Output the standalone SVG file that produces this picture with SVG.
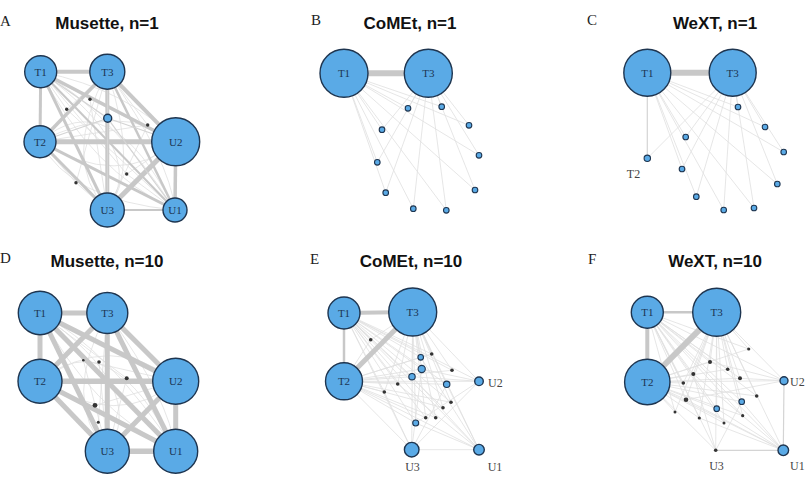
<svg xmlns="http://www.w3.org/2000/svg" width="805" height="486" viewBox="0 0 805 486">
<style>
.bg{fill:#fff}
.lt{font-family:"Liberation Serif",serif;font-size:15px;fill:#222}
.ti{font-family:"Liberation Sans",Arial,sans-serif;font-weight:bold;font-size:17px;fill:#111;text-anchor:middle}
.node circle{fill:#5aaae6;stroke:#1e3550;stroke-width:1.4}
.nl{font-family:"Liberation Serif",serif;font-size:11px;fill:#1c3552;text-anchor:middle}
.xl{font-family:"Liberation Serif",serif;font-size:12px;fill:#444}
.dot circle{fill:#333;stroke:none}
.sm circle{stroke-width:1.1}
.k{stroke:#c8c8c8;fill:none;stroke-linecap:butt}
.t{stroke:#e0e0e0;stroke-width:0.8;fill:none}
.tm{stroke:#d4d4d4;stroke-width:1.2;fill:none}
</style>
<rect class="bg" width="805" height="486"/>
<text class="lt" x="0" y="26">A</text>
<text class="lt" x="311" y="25">B</text>
<text class="lt" x="587" y="25">C</text>
<text class="lt" x="0" y="263">D</text>
<text class="lt" x="310" y="264">E</text>
<text class="lt" x="588" y="264">F</text>
<text class="ti" x="107" y="29">Musette, n=1</text>
<text class="ti" x="410" y="29">CoMEt, n=1</text>
<text class="ti" x="715" y="29">WeXT, n=1</text>
<text class="ti" x="107" y="267">Musette, n=10</text>
<text class="ti" x="411" y="267">CoMEt, n=10</text>
<text class="ti" x="715" y="267">WeXT, n=10</text>

<g id="connectors">
<g id="A-edges">
<path class="t" d="M40.7 71.7Q110 110 175 210M40 141.7Q120 100 175.7 141.7M107.3 71.7Q60 160 107.3 210M40.7 71.7Q150 150 107.3 210M40 141.7Q120 190 175.7 141.7M107.3 71.7Q170 160 175 210M40.7 71.7Q90 170 175 210M40 141.7Q110 80 175 210M40.7 71.7Q130 90 175.7 141.7M40 141.7Q70 200 175 210M107.3 71.7Q140 170 107.3 210M90 99.3L40.7 71.7M90 99.3L175.7 141.7M90 99.3L107.3 210M66.7 109.3L40.7 71.7M66.7 109.3L175 210M66.7 109.3L107.3 71.7M147.7 125L107.3 71.7M147.7 125L40 141.7M147.7 125L107.3 210M126.7 174L40.7 71.7M126.7 174L175.7 141.7M126.7 174L175 210M76 182.7L40 141.7M76 182.7L107.3 71.7M76 182.7L107.3 210"/>
<line class="k" x1="40.7" y1="71.7" x2="107.3" y2="71.7" stroke-width="4"/>
<line class="k" x1="40.7" y1="71.7" x2="40" y2="141.7" stroke-width="3"/>
<line class="k" x1="40" y1="141.7" x2="175.7" y2="141.7" stroke-width="5"/>
<line class="k" x1="107.3" y1="71.7" x2="107.3" y2="210" stroke-width="4"/>
<line class="k" x1="175.7" y1="141.7" x2="175" y2="210" stroke-width="3.5"/>
<line class="k" x1="107.3" y1="210" x2="175" y2="210" stroke-width="2"/>
<line class="k" x1="107.3" y1="71.7" x2="175.7" y2="141.7" stroke-width="4"/>
<line class="k" x1="40.7" y1="71.7" x2="175.7" y2="141.7" stroke-width="3.5"/>
<line class="k" x1="40" y1="141.7" x2="107.3" y2="210" stroke-width="3"/>
<line class="k" x1="40.7" y1="71.7" x2="107.3" y2="210" stroke-width="3"/>
<line class="k" x1="40" y1="141.7" x2="175" y2="210" stroke-width="3"/>
<line class="k" x1="107.3" y1="210" x2="175.7" y2="141.7" stroke-width="5"/>
<line class="k" x1="107.3" y1="71.7" x2="40" y2="141.7" stroke-width="3.5"/>
<line class="k" x1="107.3" y1="71.7" x2="175" y2="210" stroke-width="2.5"/>
<line class="k" x1="40.7" y1="71.7" x2="175" y2="210" stroke-width="2"/>
<path class="tm" d="M107.7 118.3L40.7 71.7M107.7 118.3L107.3 71.7M107.7 118.3L40 141.7M107.7 118.3L175.7 141.7M107.7 118.3L107.3 210M107.7 118.3L175 210"/>
</g>
<g id="B-edges">
<path class="t" d="M344 73.3L408 108.3M344 73.3L441.7 106.7M344 73.3L469 125.3M344 73.3L382 129.7M344 73.3L479 155.3M344 73.3L377.3 162.3M344 73.3L475 190M344 73.3L385.7 192.7M344 73.3L413.3 208.7M344 73.3L446.3 210.3M428.3 73.3L408 108.3M428.3 73.3L441.7 106.7M428.3 73.3L469 125.3M428.3 73.3L382 129.7M428.3 73.3L479 155.3M428.3 73.3L377.3 162.3M428.3 73.3L475 190M428.3 73.3L385.7 192.7M428.3 73.3L413.3 208.7M428.3 73.3L446.3 210.3"/>
<line class="k" x1="344" y1="73.3" x2="428.3" y2="73.3" stroke-width="6"/>
</g>
<g id="C-edges">
<path class="t" d="M647.3 72.7L738 107M647.3 72.7L765 127M647.3 72.7L685.7 137M647.3 72.7L783.7 152M647.3 72.7L682 169M647.3 72.7L777.3 184M647.3 72.7L696.3 196.7M647.3 72.7L723.7 210M647.3 72.7L754 208M732.7 72.7L738 107M732.7 72.7L765 127M732.7 72.7L685.7 137M732.7 72.7L783.7 152M732.7 72.7L682 169M732.7 72.7L777.3 184M732.7 72.7L696.3 196.7M732.7 72.7L723.7 210M732.7 72.7L754 208M732.7 72.7L647.3 158.3"/>
<line class="tm" x1="647.3" y1="72.7" x2="647.3" y2="158.3"/>
<line class="k" x1="647.3" y1="72.7" x2="732.7" y2="72.7" stroke-width="6"/>
</g>
<g id="D-edges">
<path class="t" d="M40 313Q110 350 175.7 451.3M40 381.3Q110 330 175.7 381.3M107.3 313Q60 400 107.3 451.3M40 313Q150 390 107.3 451.3M40 381.3Q120 430 175.7 381.3M107.3 313Q170 400 175.7 451.3M40 313Q90 410 175.7 451.3M40 381.3Q110 320 175.7 451.3M83.3 360.3L175.7 381.3M99 362L107.3 451.3M126.7 378.3L40 313M95 405.3L175.7 381.3M98.3 422.3L107.3 313M83.3 360.3L107.3 451.3M126.7 378.3L107.3 451.3"/>
<line class="k" x1="40" y1="313" x2="107.3" y2="313" stroke-width="5"/>
<line class="k" x1="40" y1="313" x2="40" y2="381.3" stroke-width="5"/>
<line class="k" x1="40" y1="381.3" x2="175.7" y2="381.3" stroke-width="5.5"/>
<line class="k" x1="107.3" y1="313" x2="107.3" y2="451.3" stroke-width="5"/>
<line class="k" x1="175.7" y1="381.3" x2="175.7" y2="451.3" stroke-width="5"/>
<line class="k" x1="107.3" y1="451.3" x2="175.7" y2="451.3" stroke-width="5.5"/>
<line class="k" x1="107.3" y1="313" x2="175.7" y2="381.3" stroke-width="5"/>
<line class="k" x1="40" y1="313" x2="175.7" y2="381.3" stroke-width="5"/>
<line class="k" x1="40" y1="381.3" x2="107.3" y2="451.3" stroke-width="5"/>
<line class="k" x1="40" y1="313" x2="107.3" y2="451.3" stroke-width="5"/>
<line class="k" x1="40" y1="381.3" x2="175.7" y2="451.3" stroke-width="5"/>
<line class="k" x1="107.3" y1="451.3" x2="175.7" y2="381.3" stroke-width="5"/>
<line class="k" x1="107.3" y1="313" x2="40" y2="381.3" stroke-width="5"/>
<line class="k" x1="107.3" y1="313" x2="175.7" y2="451.3" stroke-width="5"/>
<line class="k" x1="40" y1="313" x2="175.7" y2="451.3" stroke-width="5"/>
</g>
<g id="E-edges">
<path class="t" d="M344 313L479 381.3M344 313L411.7 449.7M344 313L479 449.7M344 313L420.7 357.3M344 313L421.7 369M344 313L412 376.7M344 313L446.7 384.3M344 313L415.7 423M344 313L370.7 339.7M344 313L431.7 354M344 313L452 370.3M344 313L397.7 384M344 313L384.3 392M344 313L451 402.3M344 313L443 407.7M344 313L425.7 417.7M344 313L435.7 417.7
M344 381.3L479 381.3M344 381.3L411.7 449.7M344 381.3L479 449.7M344 381.3L420.7 357.3M344 381.3L421.7 369M344 381.3L412 376.7M344 381.3L446.7 384.3M344 381.3L415.7 423M344 381.3L370.7 339.7M344 381.3L431.7 354M344 381.3L452 370.3M344 381.3L397.7 384M344 381.3L384.3 392M344 381.3L451 402.3M344 381.3L443 407.7M344 381.3L425.7 417.7M344 381.3L435.7 417.7
M412.7 312L479 381.3M412.7 312L411.7 449.7M412.7 312L479 449.7M412.7 312L420.7 357.3M412.7 312L421.7 369M412.7 312L412 376.7M412.7 312L446.7 384.3M412.7 312L415.7 423M412.7 312L370.7 339.7M412.7 312L431.7 354M412.7 312L452 370.3M412.7 312L397.7 384M412.7 312L384.3 392M412.7 312L451 402.3M412.7 312L443 407.7M412.7 312L425.7 417.7M412.7 312L435.7 417.7
M479 381.3L411.7 449.7M479 381.3L415.7 423M479 381.3L412 376.7M479 381.3L421.7 369M479 449.7L412 376.7M479 449.7L420.7 357.3M479 449.7L446.7 384.3M479 449.7L415.7 423M479 449.7L397.7 384M411.7 449.7L446.7 384.3M411.7 449.7L421.7 369M411.7 449.7L384.3 392M411.7 449.7L479 449.7"/>
<line class="k" x1="344" y1="313" x2="412.7" y2="312" stroke-width="4"/>
<line class="k" x1="344" y1="313" x2="344" y2="381.3" stroke-width="2.5"/>
<line class="k" x1="344" y1="381.3" x2="412.7" y2="312" stroke-width="5"/>
</g>
<g id="F-edges">
<path class="t" d="M647.3 312.3L784 380.7M647.3 312.3L783.3 450.3M647.3 312.3L715.7 450.3M647.3 312.3L716.7 408.7M647.3 312.3L741.7 401.7M647.3 312.3L748.7 349M647.3 312.3L710 362M647.3 312.3L727.7 369.3M647.3 312.3L693.3 374M647.3 312.3L740 378.3M647.3 312.3L683.3 383M647.3 312.3L756.7 396M647.3 312.3L686 399.7M647.3 312.3L675 412M647.3 312.3L699.3 418M647.3 312.3L742.7 415.7M647.3 312.3L724 423
M647.3 382L784 380.7M647.3 382L783.3 450.3M647.3 382L715.7 450.3M647.3 382L716.7 408.7M647.3 382L741.7 401.7M647.3 382L748.7 349M647.3 382L710 362M647.3 382L727.7 369.3M647.3 382L693.3 374M647.3 382L740 378.3M647.3 382L683.3 383M647.3 382L756.7 396M647.3 382L686 399.7M647.3 382L675 412M647.3 382L699.3 418M647.3 382L742.7 415.7M647.3 382L724 423
M716.7 312.3L784 380.7M716.7 312.3L783.3 450.3M716.7 312.3L715.7 450.3M716.7 312.3L716.7 408.7M716.7 312.3L741.7 401.7M716.7 312.3L748.7 349M716.7 312.3L710 362M716.7 312.3L727.7 369.3M716.7 312.3L693.3 374M716.7 312.3L740 378.3M716.7 312.3L683.3 383M716.7 312.3L756.7 396M716.7 312.3L686 399.7M716.7 312.3L675 412M716.7 312.3L699.3 418M716.7 312.3L742.7 415.7M716.7 312.3L724 423
M783.3 450.3L716.7 408.7M783.3 450.3L741.7 401.7M783.3 450.3L686 399.7M783.3 450.3L699.3 418M783.3 450.3L693.3 374M784 380.7L710 362M784 380.7L740 378.3M784 380.7L686 399.7M715.7 450.3L741.7 401.7M715.7 450.3L693.3 374"/>
<line class="tm" x1="715.7" y1="450.3" x2="783.3" y2="450.3" stroke-width="0.9"/>
<line class="tm" x1="784" y1="380.7" x2="783.3" y2="450.3"/>
<line class="k" x1="647.3" y1="312.3" x2="716.7" y2="312.3" stroke-width="2.5"/>
<line class="k" x1="647.3" y1="312.3" x2="647.3" y2="382" stroke-width="4"/>
<line class="k" x1="647.3" y1="382" x2="716.7" y2="312.3" stroke-width="6"/>
</g>
</g>

<g id="A-dots" class="dot"><circle cx="90" cy="99.3" r="1.7"/><circle cx="66.7" cy="109.3" r="1.7"/><circle cx="147.7" cy="125" r="1.7"/><circle cx="126.7" cy="174" r="1.7"/><circle cx="76" cy="182.7" r="1.7"/></g>
<g id="A-s" class="node"><circle cx="107.7" cy="118.3" r="4"/></g>
<g id="A-T1" class="node"><circle cx="40.7" cy="71.7" r="16"/><text class="nl" x="40.7" y="75.5">T1</text></g>
<g id="A-T3" class="node"><circle cx="107.3" cy="71.7" r="17.5"/><text class="nl" x="107.3" y="75.5">T3</text></g>
<g id="A-T2" class="node"><circle cx="40" cy="141.7" r="16"/><text class="nl" x="40" y="145.5">T2</text></g>
<g id="A-U2" class="node"><circle cx="175.7" cy="141.7" r="24"/><text class="nl" x="175.7" y="145.5">U2</text></g>
<g id="A-U3" class="node"><circle cx="107.3" cy="210" r="17"/><text class="nl" x="107.3" y="213.8">U3</text></g>
<g id="A-U1" class="node"><circle cx="175" cy="210" r="12"/><text class="nl" x="175" y="213.8">U1</text></g>

<g id="B-small" class="node sm"><circle cx="408" cy="108.3" r="2.8"/><circle cx="441.7" cy="106.7" r="2.8"/><circle cx="469" cy="125.3" r="2.8"/><circle cx="382" cy="129.7" r="2.8"/><circle cx="479" cy="155.3" r="2.8"/><circle cx="377.3" cy="162.3" r="2.8"/><circle cx="475" cy="190" r="2.8"/><circle cx="385.7" cy="192.7" r="2.8"/><circle cx="413.3" cy="208.7" r="2.8"/><circle cx="446.3" cy="210.3" r="2.8"/></g>
<g id="B-T1" class="node"><circle cx="344" cy="73.3" r="24"/><text class="nl" x="344" y="77.1">T1</text></g>
<g id="B-T3" class="node"><circle cx="428.3" cy="73.3" r="24"/><text class="nl" x="428.3" y="77.1">T3</text></g>

<g id="C-small" class="node sm"><circle cx="738" cy="107" r="2.8"/><circle cx="765" cy="127" r="2.8"/><circle cx="685.7" cy="137" r="2.8"/><circle cx="783.7" cy="152" r="2.8"/><circle cx="682" cy="169" r="2.8"/><circle cx="777.3" cy="184" r="2.8"/><circle cx="696.3" cy="196.7" r="2.8"/><circle cx="723.7" cy="210" r="2.8"/><circle cx="754" cy="208" r="2.8"/></g>
<g id="C-T2" class="node sm"><circle cx="647.3" cy="158.3" r="3.2"/><text class="xl" x="633.5" y="178" text-anchor="middle">T2</text></g>
<g id="C-T1" class="node"><circle cx="647.3" cy="72.7" r="23.5"/><text class="nl" x="647.3" y="76.5">T1</text></g>
<g id="C-T3" class="node"><circle cx="732.7" cy="72.7" r="23.5"/><text class="nl" x="732.7" y="76.5">T3</text></g>

<g id="D-dots" class="dot"><circle cx="83.3" cy="360.3" r="1.3"/><circle cx="99" cy="362" r="1.8"/><circle cx="126.7" cy="378.3" r="2"/><circle cx="95" cy="405.3" r="2.4"/><circle cx="98.3" cy="422.3" r="1.5"/></g>
<g id="D-T1" class="node"><circle cx="40" cy="313" r="21.7"/><text class="nl" x="40" y="316.8">T1</text></g>
<g id="D-T3" class="node"><circle cx="107.3" cy="313" r="20.5"/><text class="nl" x="107.3" y="316.8">T3</text></g>
<g id="D-T2" class="node"><circle cx="40" cy="381.3" r="22"/><text class="nl" x="40" y="385.1">T2</text></g>
<g id="D-U2" class="node"><circle cx="175.7" cy="381.3" r="23"/><text class="nl" x="175.7" y="385.1">U2</text></g>
<g id="D-U3" class="node"><circle cx="107.3" cy="451.3" r="22"/><text class="nl" x="107.3" y="455.1">U3</text></g>
<g id="D-U1" class="node"><circle cx="175.7" cy="451.3" r="22"/><text class="nl" x="175.7" y="455.1">U1</text></g>

<g id="E-dots" class="dot"><circle cx="370.7" cy="339.7" r="1.8"/><circle cx="431.7" cy="354" r="1.8"/><circle cx="452" cy="370.3" r="1.8"/><circle cx="397.7" cy="384" r="1.8"/><circle cx="384.3" cy="392" r="1.8"/><circle cx="451" cy="402.3" r="1.8"/><circle cx="443" cy="407.7" r="1.8"/><circle cx="425.7" cy="417.7" r="1.8"/><circle cx="435.7" cy="417.7" r="1.8"/></g>
<g id="E-small" class="node sm"><circle cx="420.7" cy="357.3" r="2.8"/><circle cx="421.7" cy="369" r="3.6"/><circle cx="412" cy="376.7" r="3.2"/><circle cx="446.7" cy="384.3" r="3.2"/><circle cx="415.7" cy="423" r="3"/></g>
<g id="E-T1" class="node"><circle cx="344" cy="313" r="16"/><text class="nl" x="344" y="316.8">T1</text></g>
<g id="E-T3" class="node"><circle cx="412.7" cy="312" r="24"/><text class="nl" x="412.7" y="315.8">T3</text></g>
<g id="E-T2" class="node"><circle cx="344" cy="381.3" r="18.5"/><text class="nl" x="344" y="385.1">T2</text></g>
<g id="E-U2" class="node"><circle cx="479" cy="381.3" r="4.3"/><text class="xl" x="488" y="387">U2</text></g>
<g id="E-U3" class="node"><circle cx="411.7" cy="449.7" r="7.3"/><text class="xl" x="412.5" y="471" text-anchor="middle">U3</text></g>
<g id="E-U1" class="node"><circle cx="479" cy="449.7" r="5.3"/><text class="xl" x="495" y="471" text-anchor="middle">U1</text></g>

<g id="F-dots" class="dot"><circle cx="748.7" cy="349" r="1.6"/><circle cx="710" cy="362" r="2"/><circle cx="727.7" cy="369.3" r="1.8"/><circle cx="693.3" cy="374" r="2"/><circle cx="740" cy="378.3" r="2"/><circle cx="683.3" cy="383" r="1.8"/><circle cx="756.7" cy="396" r="1.8"/><circle cx="686" cy="399.7" r="2.3"/><circle cx="675" cy="412" r="1.5"/><circle cx="699.3" cy="418" r="1.6"/><circle cx="742.7" cy="415.7" r="1.6"/><circle cx="724" cy="423" r="1.5"/></g>
<g id="F-small" class="node sm"><circle cx="716.7" cy="408.7" r="2.8"/><circle cx="741.7" cy="401.7" r="2.8"/></g>
<g id="F-U3" class="dot"><circle cx="715.7" cy="450.3" r="1.8"/><text class="xl" x="716.5" y="470" text-anchor="middle">U3</text></g>
<g id="F-T1" class="node"><circle cx="647.3" cy="312.3" r="16"/><text class="nl" x="647.3" y="316.1">T1</text></g>
<g id="F-T3" class="node"><circle cx="716.7" cy="312.3" r="24"/><text class="nl" x="716.7" y="316.1">T3</text></g>
<g id="F-T2" class="node"><circle cx="647.3" cy="382" r="22.7"/><text class="nl" x="647.3" y="385.8">T2</text></g>
<g id="F-U2" class="node"><circle cx="784" cy="380.7" r="4"/><text class="xl" x="790" y="386">U2</text></g>
<g id="F-U1" class="node"><circle cx="783.3" cy="450.3" r="5.3"/><text class="xl" x="790" y="470">U1</text></g>
</svg>
